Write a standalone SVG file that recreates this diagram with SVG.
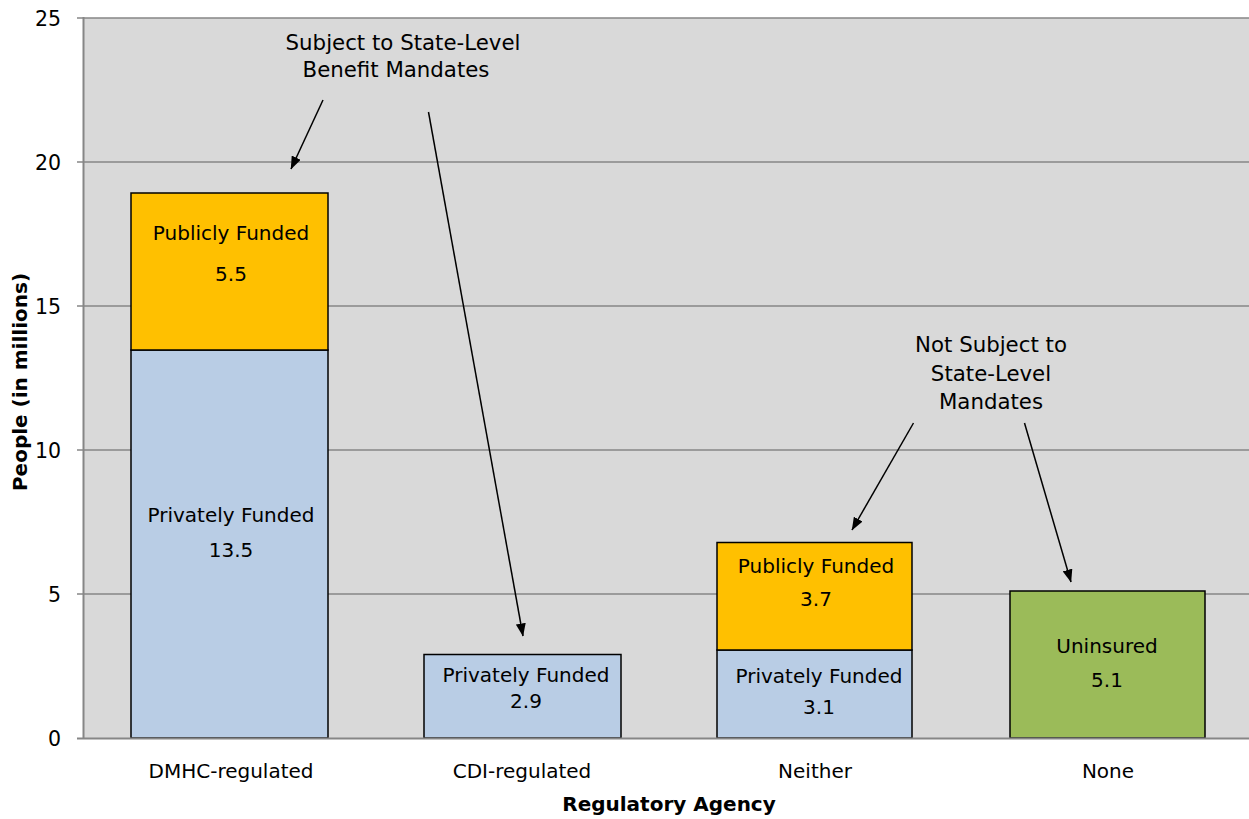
<svg xmlns="http://www.w3.org/2000/svg" width="1249" height="819" viewBox="0 0 1249 819">
<defs>
<style>
text{font-family:"DejaVu Sans","Liberation Sans",sans-serif;fill:#000}
.t{font-size:20px;text-anchor:middle}
.tick{font-size:20.5px;text-anchor:end}
.ann{font-size:21.3px;text-anchor:middle}
.ttl{font-size:20px;font-weight:bold;text-anchor:middle}
.grid{stroke:#868686;stroke-width:1.5}
.bar{stroke:#000;stroke-width:1.5}
.pub{fill:#FFC000}
.pri{fill:#B9CDE5}
.uni{fill:#9BBB59}
.arr{stroke:#000;stroke-width:1.5;fill:none;marker-end:url(#ah)}
</style>
<marker id="ah" viewBox="0 0 13 10" refX="12.5" refY="5" markerWidth="13" markerHeight="10" markerUnits="userSpaceOnUse" orient="auto"><path d="M0,0 L13,5 L0,10 z" fill="#000"/></marker>
</defs>
<rect width="1249" height="819" fill="#fff"/>
<g id="plot">
<rect x="83" y="18" width="1166" height="720" fill="#D9D9D9"/>
<line class="grid" x1="77" y1="18" x2="1249" y2="18"/>
<line class="grid" x1="77" y1="162" x2="1249" y2="162"/>
<line class="grid" x1="77" y1="306" x2="1249" y2="306"/>
<line class="grid" x1="77" y1="450" x2="1249" y2="450"/>
<line class="grid" x1="77" y1="594" x2="1249" y2="594"/>
<line x1="83.5" y1="17" x2="83.5" y2="739" stroke="#868686" stroke-width="2"/>
<text class="tick" x="61" y="26">25</text>
<text class="tick" x="61" y="170">20</text>
<text class="tick" x="61" y="314">15</text>
<text class="tick" x="61" y="458">10</text>
<text class="tick" x="61" y="602">5</text>
<text class="tick" x="61" y="746">0</text>
</g>
<g id="bar-dmhc">
<rect class="bar pri" x="131" y="350" width="197" height="388"/>
<rect class="bar pub" x="131" y="193" width="197" height="157"/>
<text class="t" x="231" y="240">Publicly Funded</text>
<text class="t" x="231" y="281">5.5</text>
<text class="t" x="231" y="522">Privately Funded</text>
<text class="t" x="231" y="557">13.5</text>
</g>
<g id="bar-cdi">
<rect class="bar pri" x="424" y="654.5" width="197" height="83.5"/>
<text class="t" x="526" y="682">Privately Funded</text>
<text class="t" x="526" y="708">2.9</text>
</g>
<g id="bar-neither">
<rect class="bar pri" x="717" y="650" width="195" height="88"/>
<rect class="bar pub" x="717" y="542.5" width="195" height="107.5"/>
<text class="t" x="816" y="573">Publicly Funded</text>
<text class="t" x="816" y="606">3.7</text>
<text class="t" x="819" y="683">Privately Funded</text>
<text class="t" x="819" y="714">3.1</text>
</g>
<g id="bar-none">
<rect class="bar uni" x="1010" y="591" width="195" height="147"/>
<text class="t" x="1107" y="653">Uninsured</text>
<text class="t" x="1107" y="687">5.1</text>
</g>
<line x1="77" y1="738.5" x2="1249" y2="738.5" stroke="#868686" stroke-width="2"/>
<g id="annotation-subject">
<text class="ann" x="403" y="50">Subject to State-Level</text>
<text class="ann" x="396" y="77">Benefit Mandates</text>
</g>
<g id="annotation-not-subject">
<text class="ann" x="991" y="352">Not Subject to</text>
<text class="ann" x="991" y="381">State-Level</text>
<text class="ann" x="991" y="409">Mandates</text>
</g>
<g id="connectors">
<line class="arr" x1="323" y1="100" x2="291" y2="169"/>
<line class="arr" x1="428.5" y1="112" x2="523" y2="636"/>
<line class="arr" x1="913.5" y1="423" x2="852" y2="530"/>
<line class="arr" x1="1024.5" y1="423" x2="1071" y2="582"/>
</g>
<g id="axis-labels">
<text class="t" x="231" y="778">DMHC-regulated</text>
<text class="t" x="522" y="778">CDI-regulated</text>
<text class="t" x="815" y="778">Neither</text>
<text class="t" x="1108" y="778">None</text>
<text class="ttl" x="669" y="811">Regulatory Agency</text>
<text class="ttl" transform="translate(27,382) rotate(-90)">People (in millions)</text>
</g>
</svg>
